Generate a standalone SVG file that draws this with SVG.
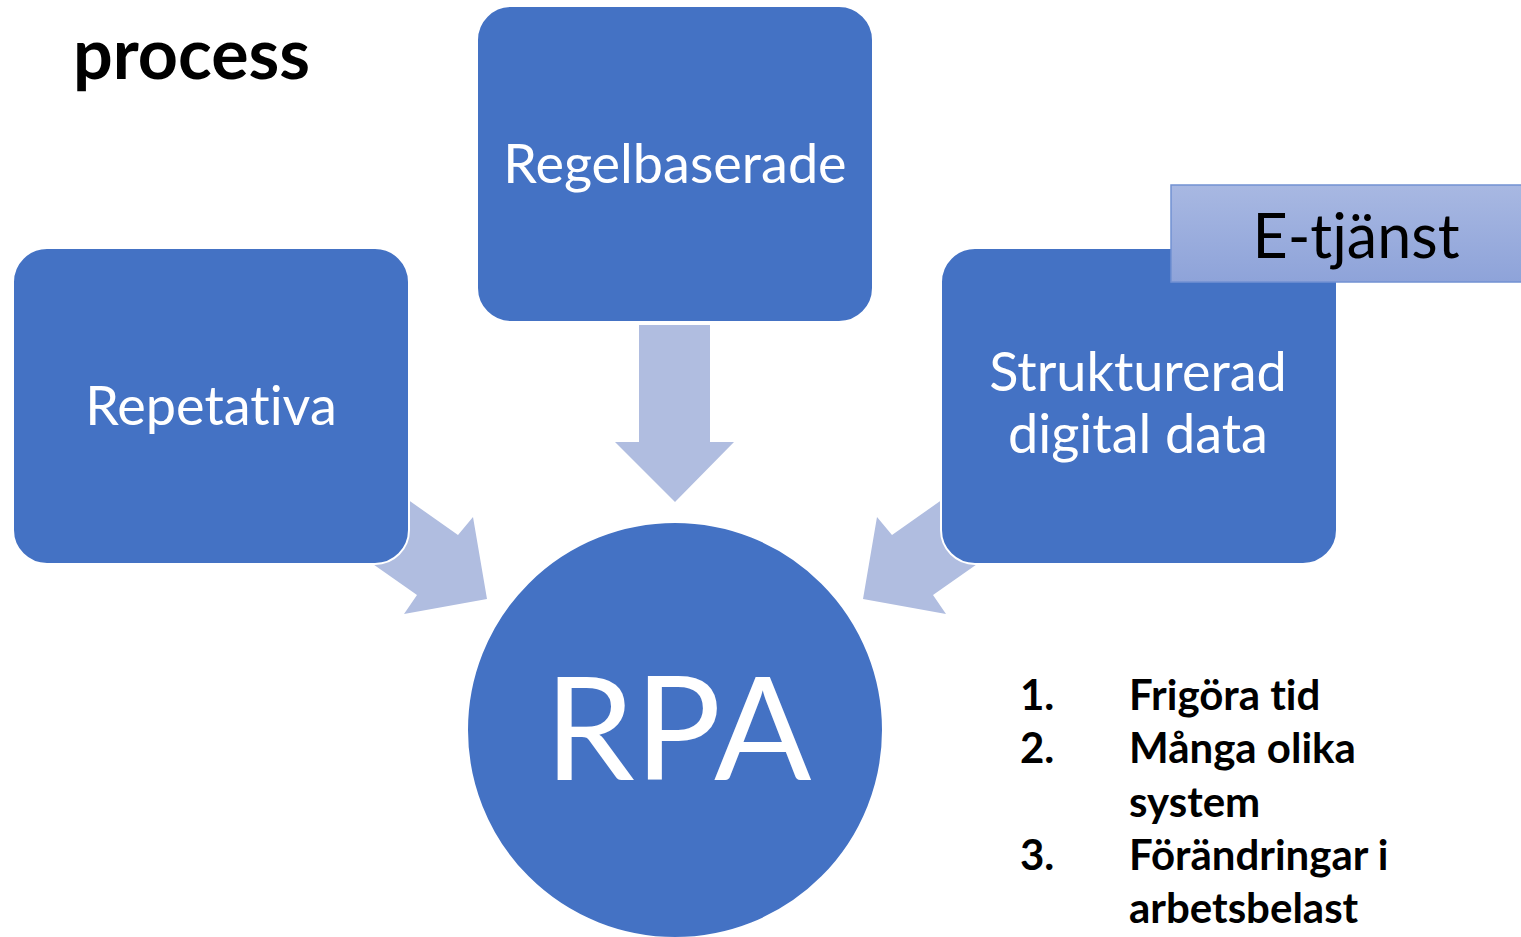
<svg xmlns="http://www.w3.org/2000/svg" width="1521" height="937" viewBox="0 0 1521 937">
  <defs>
    <linearGradient id="tagFill" x1="0" y1="0" x2="0" y2="1">
      <stop offset="0" stop-color="#a8b8e2"/>
      <stop offset="1" stop-color="#8ea3d9"/>
    </linearGradient>
  </defs>
  <style>
    text { font-variant-ligatures: none; font-feature-settings: "liga" 0; }
    .box { fill: #4472c4; stroke: #ffffff; stroke-width: 2; }
    .arrow { fill: #b0bde0; stroke: none; }
    .lbl { font-family: Lato, "Open Sans", sans-serif; fill: #ffffff; text-anchor: middle; }
    .dark { font-family: Lato, "Open Sans", sans-serif; fill: #000000; }
    .bold { font-weight: bold; }
  </style>
  <rect width="1521" height="937" fill="#ffffff"/>

  <text class="dark bold" x="73" y="79" font-size="70">process</text>

  <!-- block arrows pointing into the central circle -->
  <g id="connectors">
    <polygon class="arrow" points="639,325 710,325 710,442 734,442 675,502 615,442 639,442"/>
    <polygon class="arrow" points="380,480 458,535 473,517 487,599 404,614 417,595 350,548"/>
    <polygon class="arrow" points="970,480 892,535 877,517 863,599 946,614 933,595 1000,548"/>
  </g>

  <g id="node-regelbaserade">
    <rect class="box" x="477" y="6" width="396" height="316" rx="34"/>
    <text class="lbl" x="675" y="183" font-size="54">Regelbaserade</text>
  </g>

  <g id="node-repetativa">
    <rect class="box" x="13" y="248" width="396" height="316" rx="34"/>
    <text class="lbl" x="211" y="425" font-size="54">Repetativa</text>
  </g>

  <g id="node-strukturerad">
    <rect class="box" x="941" y="248" width="396" height="316" rx="34"/>
    <text class="lbl" x="1138" y="391" font-size="54">Strukturerad</text>
    <text class="lbl" x="1138" y="453" font-size="54">digital data</text>
  </g>

  <g id="node-etjanst">
    <rect x="1171" y="185" width="355" height="97" fill="url(#tagFill)" stroke="#7291d2" stroke-width="1.5"/>
    <text class="dark" x="1356" y="258" font-size="61" text-anchor="middle">E-tjänst</text>
  </g>

  <g id="node-rpa">
    <circle class="box" cx="675" cy="730" r="208"/>
    <text class="lbl" x="678" y="780" font-size="144">RPA</text>
  </g>

  <g id="benefits" class="dark bold" font-size="42">
    <text x="1020" y="710">1.</text>
    <text x="1129" y="710">Frigöra tid</text>
    <text x="1020" y="763">2.</text>
    <text x="1129" y="763">Många olika</text>
    <text x="1129" y="817">system</text>
    <text x="1020" y="870">3.</text>
    <text x="1129" y="870">Förändringar i</text>
    <text x="1129" y="923">arbetsbelast</text>
  </g>
</svg>
